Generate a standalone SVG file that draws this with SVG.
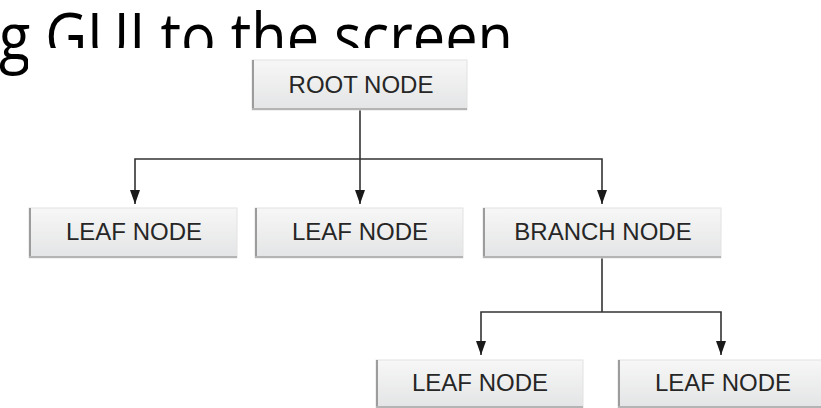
<svg xmlns="http://www.w3.org/2000/svg" width="821" height="408" viewBox="0 0 821 408">
  <defs>
    <linearGradient id="boxfill" x1="0" y1="0" x2="0" y2="1">
      <stop offset="0" stop-color="#f7f7f7"/>
      <stop offset="1" stop-color="#e3e4e5"/>
    </linearGradient>
    <marker id="arrow" viewBox="0 0 14 10" refX="14" refY="5" markerWidth="14" markerHeight="10" markerUnits="userSpaceOnUse" orient="auto">
      <path d="M0,0 L14,5 L0,10 Z" fill="#1a1a1a"/>
    </marker>
  </defs>
  <style>
    .title { font-family: "Open Sans", "Liberation Sans", sans-serif; font-size: 66px; fill: #000000; }
    .box { fill: url(#boxfill); stroke: #e2e2e2; stroke-width: 1; }
    .edge-l { stroke: #9c9c9c; stroke-width: 2; fill: none; }
    .edge-b { stroke: #b4b4b4; stroke-width: 2; fill: none; }
    .label { font-family: "Liberation Sans", Arial, sans-serif; font-size: 24px; fill: #262626; text-anchor: middle; }
    .conn { stroke: #333333; stroke-width: 1.6; fill: none; }
    .arr { stroke: #333333; stroke-width: 1.6; fill: none; marker-end: url(#arrow); }
  </style>

  <rect width="821" height="408" fill="#ffffff"/>
  <text class="title" x="-1" y="60" textLength="514" lengthAdjust="spacingAndGlyphs">g GUI to the screen</text>
  <rect x="28" y="48" width="793" height="360" fill="#ffffff"/>

  <g id="connectors">
    <polyline class="conn" points="360,110 360,159"/>
    <polyline class="arr" points="360,159 135,159 135,204"/>
    <polyline class="arr" points="360,159 360,204"/>
    <polyline class="arr" points="360,159 602,159 602,204"/>
    <polyline class="conn" points="602,258 602,312"/>
    <polyline class="arr" points="602,312 481,312 481,355"/>
    <polyline class="arr" points="602,312 721,312 721,355"/>
  </g>

  <g id="root-node">
    <rect class="box" x="252" y="60" width="215" height="50"/>
    <line class="edge-l" x1="253" y1="60" x2="253" y2="110"/>
    <line class="edge-b" x1="252" y1="109" x2="467" y2="109"/>
    <text class="label" x="361" y="93">ROOT NODE</text>
  </g>

  <g id="leaf-node-1">
    <rect class="box" x="29" y="208" width="208" height="50"/>
    <line class="edge-l" x1="30" y1="208" x2="30" y2="258"/>
    <line class="edge-b" x1="29" y1="257" x2="237" y2="257"/>
    <text class="label" x="134" y="240">LEAF NODE</text>
  </g>

  <g id="leaf-node-2">
    <rect class="box" x="255" y="208" width="208" height="50"/>
    <line class="edge-l" x1="256" y1="208" x2="256" y2="258"/>
    <line class="edge-b" x1="255" y1="257" x2="463" y2="257"/>
    <text class="label" x="360" y="240">LEAF NODE</text>
  </g>

  <g id="branch-node">
    <rect class="box" x="483" y="208" width="238" height="50"/>
    <line class="edge-l" x1="484" y1="208" x2="484" y2="258"/>
    <line class="edge-b" x1="483" y1="257" x2="721" y2="257"/>
    <text class="label" x="603" y="240">BRANCH NODE</text>
  </g>

  <g id="leaf-node-3">
    <rect class="box" x="376" y="360" width="207" height="48"/>
    <line class="edge-l" x1="377" y1="360" x2="377" y2="408"/>
    <line class="edge-b" x1="376" y1="407" x2="583" y2="407"/>
    <text class="label" x="480" y="391">LEAF NODE</text>
  </g>

  <g id="leaf-node-4">
    <rect class="box" x="618" y="360" width="210" height="48"/>
    <line class="edge-l" x1="619" y1="360" x2="619" y2="408"/>
    <line class="edge-b" x1="618" y1="407" x2="828" y2="407"/>
    <text class="label" x="723" y="391">LEAF NODE</text>
  </g>
</svg>
